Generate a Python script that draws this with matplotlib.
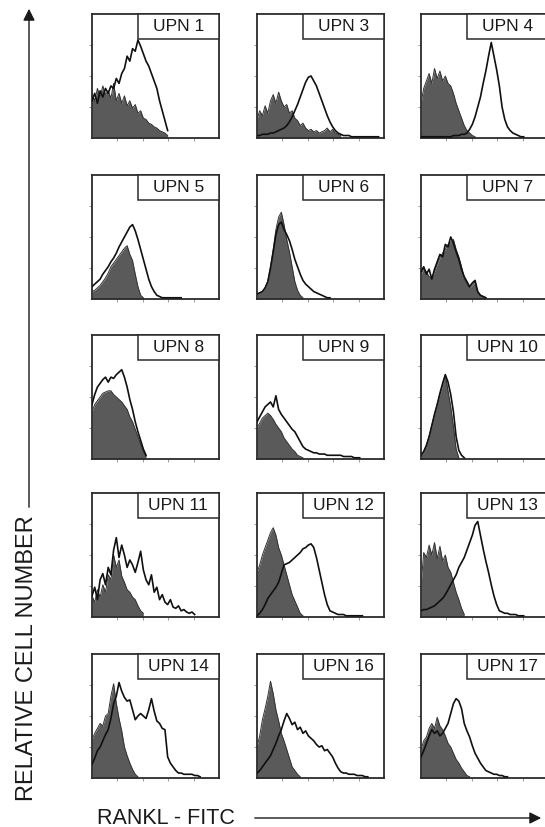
import numpy as np
import matplotlib
matplotlib.use("Agg")
import matplotlib.pyplot as plt
from matplotlib import font_manager
from matplotlib.patches import Rectangle, FancyArrowPatch

# histogram heights in % of panel height, one value per channel bin (48 bins across a panel)
NBINS = 48

upn1_ctrl = [36,30,40,33,42,35,38,32,44,30,36,28,34,26,30,24,27,20,22,16,15,12,11,9,8,6,5,4,2]
upn1_rankl = [30,36,28,38,33,40,36,42,40,48,44,52,56,66,62,72,70,79,74,68,62,58,52,46,40,30,22,14,6]

upn3_ctrl = [15,22,18,26,20,30,35,28,37,30,25,27,20,22,16,14,10,12,8,6,7,5,6,4,5,6,8,5,7,4,3,2]
upn3_rankl = [2,2,3,3,3,4,4,5,6,7,8,10,13,17,22,27,33,39,45,49,50,46,42,36,30,24,18,13,9,6,
              4,3,2,2,2,1,1,1,1,1,1,1,1,1,1,1]

upn4_ctrl = [28,40,46,52,44,56,48,54,46,50,44,42,36,28,22,16,10,6,4,2,1]
upn4_rankl = [1,1,1,1,1,1,1,1,1,1,1,1,2,2,2,3,3,4,7,11,17,25,33,44,54,66,77,66,55,42,
              25,15,9,6,4,3,2,1,1]

upn5_ctrl = [6,7,9,11,14,17,21,26,29,32,35,38,41,43,36,31,20,10,3,1]
upn5_rankl = [10,12,14,16,20,23,26,30,33,37,42,46,50,54,58,60,55,48,40,32,24,16,10,6,3,2,
              1,1,1,1,1,1,1,1]

upn6_ctrl = [4,5,6,9,14,26,40,56,66,70,60,48,38,26,14,7,3,1]
upn6_rankl = [4,5,6,9,14,25,38,52,60,62,56,52,47,40,32,26,20,15,12,10,8,6,5,4,3,2,1,1]

upn7_ctrl = [20,24,22,18,17,22,28,33,37,40,44,46,48,40,34,26,17,12,9,11,14,5,3,2,1]
upn7_rankl = [22,26,20,24,16,24,30,36,34,44,42,50,45,38,32,24,18,14,10,13,15,6,3,2,1]

upn8_ctrl = [38,44,47,50,53,54,55,55,52,50,48,46,43,40,34,30,24,18,12,6,2]
upn8_rankl = [44,52,58,61,64,66,62,66,65,68,70,72,66,58,48,40,30,22,15,8,3]

upn9_ctrl = [25,29,33,35,37,35,32,28,25,22,17,14,11,8,6,3,2,1]
upn9_rankl = [30,34,38,42,44,46,42,51,40,36,33,30,27,24,22,18,14,10,8,7,6,5,5,4,4,4,3,3,3,3,
              3,3,2,2,2,2,1,1,1]

upn10_ctrl = [3,6,11,18,27,36,44,52,60,68,55,42,26,8,1]
upn10_rankl = [3,6,11,18,27,36,44,53,61,68,62,52,38,18,7,3,1]

upn11_ctrl = [17,12,22,16,26,20,34,30,50,40,46,33,28,22,20,16,14,9,5,3]
upn11_rankl = [17,24,14,30,35,26,40,34,54,64,48,58,50,40,46,42,36,44,53,38,30,26,34,20,24,14,
               18,12,10,14,8,7,9,5,6,4,3,4,2]

upn12_ctrl = [36,42,50,56,62,68,72,66,56,50,42,34,26,18,13,8,3,1]
upn12_rankl = [1,3,6,10,15,18,21,24,28,35,42,43,44,46,48,50,52,55,56,58,59,56,48,38,28,18,10,
               5,4,3,2,2,2,1,1,1,1,1,1,1]

upn13_ctrl = [25,52,48,58,50,60,47,57,45,50,40,36,28,20,14,7,2]
upn13_rankl = [5,6,6,7,8,9,11,13,15,18,22,26,30,34,40,44,48,54,60,66,74,77,66,55,45,36,26,17,
               10,5,4,3,3,2,2,2,1,1,1]

upn14_ctrl = [31,36,40,44,42,50,52,66,76,60,48,38,25,18,12,7,3,1]
upn14_rankl = [11,16,22,25,30,35,39,48,60,66,77,70,65,62,63,55,47,50,52,50,48,55,64,54,46,44,
               40,39,17,12,9,6,4,4,3,3,3,3,2,2,1]

upn16_ctrl = [25,34,47,56,66,78,68,55,46,36,30,23,16,9,6,3,1]
upn16_rankl = [4,6,9,12,15,18,23,28,34,39,46,52,48,43,45,39,41,36,38,34,32,30,27,25,26,22,23,
               20,17,12,8,5,4,4,3,3,3,2,2,2,1,1]

upn17_ctrl = [23,30,33,40,44,40,49,42,39,34,28,25,20,15,12,8,5,2,1]
upn17_rankl = [17,22,28,34,39,36,38,34,36,40,44,52,60,64,62,56,44,38,33,26,20,16,12,9,6,5,4,
               3,3,2,2,1,1]

labels = ["UPN 1", "UPN 3", "UPN 4",
          "UPN 5", "UPN 6", "UPN 7",
          "UPN 8", "UPN 9", "UPN 10",
          "UPN 11", "UPN 12", "UPN 13",
          "UPN 14", "UPN 16", "UPN 17"]
controls = [upn1_ctrl, upn3_ctrl, upn4_ctrl, upn5_ctrl, upn6_ctrl, upn7_ctrl,
            upn8_ctrl, upn9_ctrl, upn10_ctrl, upn11_ctrl, upn12_ctrl, upn13_ctrl,
            upn14_ctrl, upn16_ctrl, upn17_ctrl]
rankl = [upn1_rankl, upn3_rankl, upn4_rankl, upn5_rankl, upn6_rankl, upn7_rankl,
         upn8_rankl, upn9_rankl, upn10_rankl, upn11_rankl, upn12_rankl, upn13_rankl,
         upn14_rankl, upn16_rankl, upn17_rankl]

# fonts: narrow sans if we have it
names = {f.name for f in font_manager.fontManager.ttflist}
if "Liberation Sans Narrow" in names:
    big_font, big_size, bot_size = "Liberation Sans Narrow", 21, 19
else:
    big_font, big_size, bot_size = "Liberation Sans", 17, 15.5
plt.rcParams["font.family"] = ["Liberation Sans", "DejaVu Sans"]

W, H = 545, 827
fig = plt.figure(figsize=(W / 100, H / 100), dpi=100)

col_left = [92, 257, 421]
row_top = [14, 175, 335, 493, 654]
pw, ph = 127, 124

gray = "#5a5a5a"
frame = "#2b2b2b"

for i, lab in enumerate(labels):
    r, c = divmod(i, 3)
    x0 = col_left[c] / W
    y0 = 1 - (row_top[r] + ph) / H
    ax = fig.add_axes([x0, y0, pw / W, ph / H])
    ctrl = np.array(controls[i], dtype=float)
    samp = np.array(rankl[i], dtype=float)
    xc = np.arange(len(ctrl))
    xs = np.arange(len(samp))
    ax.fill_between(xc, ctrl, 0, color=gray, lw=0, zorder=2)
    ax.plot(xc, ctrl, color="#333333", lw=0.7, zorder=3)
    ax.plot(xs, samp, color="#101010", lw=1.2, zorder=4)
    ax.set_xlim(0, NBINS - 1)
    ax.set_ylim(0, 100)
    ax.set_xticks(np.linspace(0, NBINS - 1, 6)[1:-1])
    ax.set_yticks([25, 50, 75])
    ax.tick_params(length=2, width=0.6, color="#888888",
                   labelbottom=False, labelleft=False)
    for s in ax.spines.values():
        s.set_color(frame)
        s.set_linewidth(1.3)
    ax.add_patch(Rectangle((0.36, 0.8), 0.64, 0.2, transform=ax.transAxes,
                           facecolor="white", edgecolor=frame, lw=1.1,
                           zorder=5, clip_on=False))
    ax.text(0.68, 0.9, lab, transform=ax.transAxes, ha="center", va="center",
            fontsize=12.5, color="#1a1a1a", zorder=6)

# axis captions with arrows
fig.text(27 / W, 1 - 658 / H, "RELATIVE CELL NUMBER", rotation=90,
         ha="center", va="center", fontsize=big_size, family=big_font, color="#1a1a1a")
fig.text(97 / W, 1 - 818 / H, "RANKL - FITC", ha="left", va="center",
         fontsize=bot_size, family=big_font, color="#1a1a1a")

fig.add_artist(FancyArrowPatch(
    (29 / W, 1 - 510 / H), (29 / W, 1 - 6 / H), transform=fig.transFigure,
    arrowstyle="-|>,head_length=7,head_width=3.5", color="#1a1a1a", lw=1.0))
fig.add_artist(FancyArrowPatch(
    (252 / W, 1 - 818 / H), (544 / W, 1 - 818 / H), transform=fig.transFigure,
    arrowstyle="-|>,head_length=7,head_width=3.5", color="#1a1a1a", lw=1.0))

fig.savefig("out.png", dpi=100)
